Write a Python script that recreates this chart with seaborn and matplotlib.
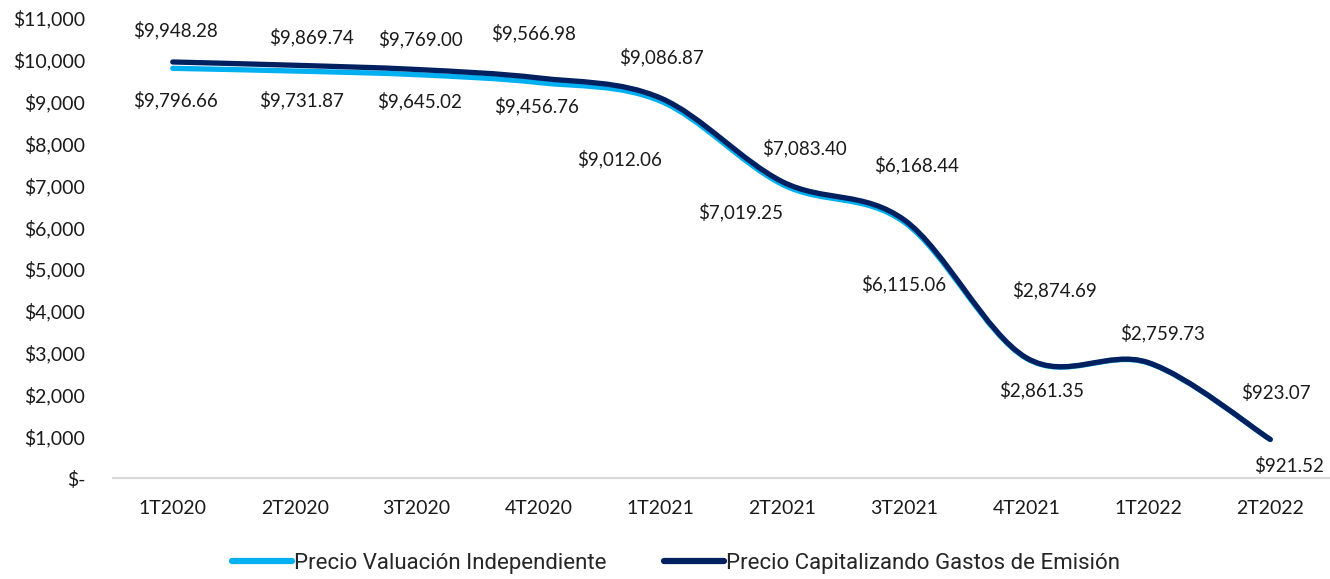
import matplotlib
matplotlib.use("Agg")
import matplotlib.pyplot as plt
from matplotlib.path import Path
from matplotlib.patches import PathPatch
from matplotlib.lines import Line2D
from matplotlib.ticker import FuncFormatter
import seaborn as sns
import numpy as np

# Datos del reporte
trimestres = ["1T2020", "2T2020", "3T2020", "4T2020", "1T2021",
              "2T2021", "3T2021", "4T2021", "1T2022", "2T2022"]
precio_valuacion = [9796.66, 9731.87, 9645.02, 9456.76, 9012.06,
                    7019.25, 6115.06, 2861.35, 2752.40, 921.52]
precio_capitalizando = [9948.28, 9869.74, 9769.00, 9566.98, 9086.87,
                        7083.40, 6168.44, 2874.69, 2759.73, 923.07]

# posicion de las etiquetas (pixeles respecto al punto), None = sin etiqueta
off_valuacion = [(3, -32), (7, -29), (3, -26), (-2, -24), (-41, -58),
                 (-42, -28), (-1, -62), (15, -32), None, (19, -27)]
off_capitalizando = [(3, 32), (17, 28), (4, 30), (-5, 45), (1, 41),
                     (22, 34), (12, 55), (28, 68), (14, 30), (6, 46)]

COLOR_CLARO = "#00B0F0"
COLOR_OSCURO = "#002060"
FUENTE = ["Lato", "DejaVu Sans"]
FUENTE_LEYENDA = ["Roboto", "DejaVu Sans"]

sns.set_theme(style="white")
plt.rcParams["font.family"] = FUENTE


def curva_suave(xs, ys):
    # curva bezier tipo Excel (catmull-rom) entre los puntos
    pts = np.column_stack([xs, ys]).astype(float)
    n = len(pts)
    verts = [pts[0]]
    codes = [Path.MOVETO]
    for i in range(n - 1):
        p0 = pts[max(i - 1, 0)]
        p1 = pts[i]
        p2 = pts[i + 1]
        p3 = pts[min(i + 2, n - 1)]
        c1 = p1 + (p2 - p0) / 6.0
        c2 = p2 - (p3 - p1) / 6.0
        verts += [c1, c2, p2]
        codes += [Path.CURVE4] * 3
    return Path(verts, codes)


fig = plt.figure(figsize=(13.3, 5.79), dpi=100)
ax = fig.add_axes([113 / 1330, 1 - 478 / 579, (1330 - 113) / 1330, 460 / 579])

x = np.arange(len(trimestres))
series = [(precio_valuacion, COLOR_CLARO, off_valuacion),
          (precio_capitalizando, COLOR_OSCURO, off_capitalizando)]

for valores, color, offsets in series:
    patch = PathPatch(curva_suave(x, valores), facecolor="none", edgecolor=color,
                      lw=3.8, capstyle="round", joinstyle="round")
    ax.add_patch(patch)
    for xi, v, off in zip(x, valores, offsets):
        if off is None:
            continue
        ax.annotate(f"${v:,.2f}", (xi, v), xytext=off, textcoords="offset pixels",
                    ha="center", va="center", fontsize=13.5, color="#1a1a1a")

ax.set_xlim(-0.49, 9.49)
ax.set_ylim(0, 11000)
ax.set_xticks(x)
ax.set_xticklabels(trimestres)
ax.set_yticks(np.arange(0, 11001, 1000))
ax.yaxis.set_major_formatter(FuncFormatter(lambda v, p: "$-" if v == 0 else f"${v:,.0f}"))
ax.tick_params(axis="both", length=0, labelsize=14, colors="#1a1a1a")
ax.tick_params(axis="y", pad=20)
ax.tick_params(axis="x", pad=16)
ax.grid(False)

sns.despine(ax=ax, left=True, top=True, right=True)
ax.spines["bottom"].set_color("#D9D9D9")
ax.spines["bottom"].set_linewidth(1.5)

handles = [Line2D([0], [0], color=COLOR_CLARO, lw=4.5, solid_capstyle="round"),
           Line2D([0], [0], color=COLOR_OSCURO, lw=4.5, solid_capstyle="round")]
fig.legend(handles, ["Precio Valuación Independiente", "Precio Capitalizando Gastos de Emisión"],
           loc="center", bbox_to_anchor=(676 / 1330, 1 - 563 / 579), ncol=2, frameon=False,
           prop={"family": FUENTE_LEYENDA, "size": 16}, handlelength=2.7,
           handletextpad=0.1, columnspacing=2.6)

fig.savefig("out.png", dpi=100)
